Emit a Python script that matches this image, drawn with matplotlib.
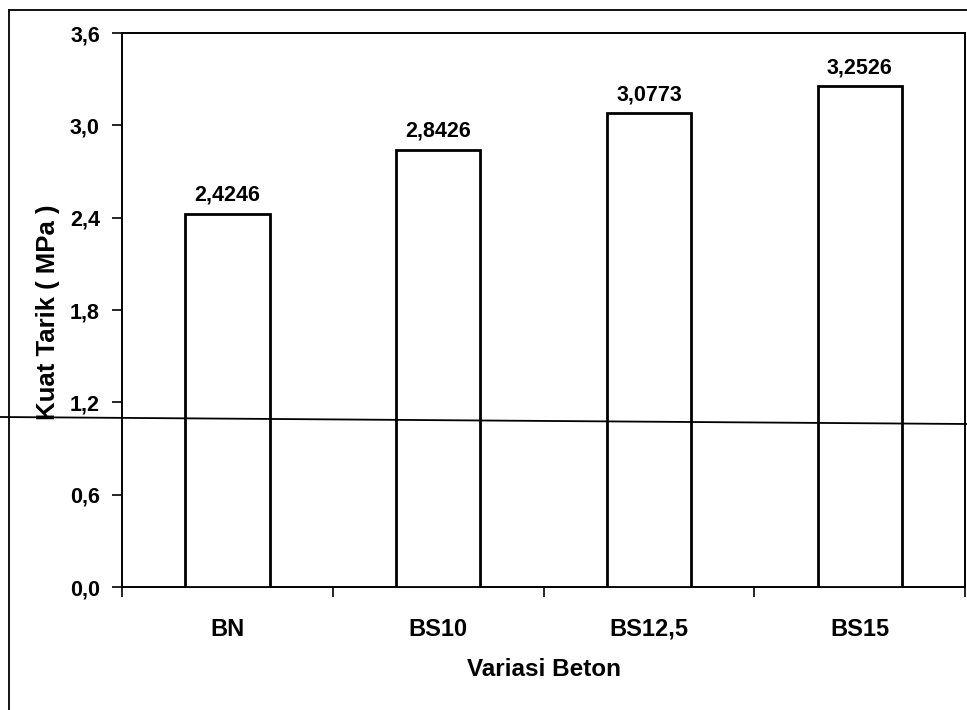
import numpy as np
import matplotlib
matplotlib.use("Agg")
import matplotlib.pyplot as plt
from matplotlib.lines import Line2D
from matplotlib.ticker import FixedLocator, FuncFormatter

# Tensile strength per concrete variant
variasi = ['BN', 'BS10', 'BS12,5', 'BS15']
kuat_tarik = [2.4246, 2.8426, 3.0773, 3.2526]
y_ticks = [0.0, 0.6, 1.2, 1.8, 2.4, 3.0, 3.6]

plt.rcParams['font.family'] = ['Liberation Sans', 'DejaVu Sans']

fig = plt.figure(figsize=(9.67, 7.10), dpi=100)
ax = fig.add_axes([0.1262, 0.1732, 0.8718, 0.7803])

x = np.arange(len(variasi))
bars = ax.bar(x, kuat_tarik, width=0.4, color='white', edgecolor='black',
              linewidth=2.0, zorder=3)

for xi, val in zip(x, kuat_tarik):
    ax.annotate(f"{val:.4f}".replace('.', ','), (xi, val),
                xytext=(0, 6), textcoords='offset points',
                ha='center', va='bottom', fontsize=15.5, fontweight='bold')

ax.set_xlim(-0.5, len(variasi) - 0.5)
ax.set_ylim(0, 3.6)

# y axis: comma decimals, outward ticks
ax.yaxis.set_major_locator(FixedLocator(y_ticks))
ax.yaxis.set_major_formatter(FuncFormatter(lambda v, p: f"{v:.1f}".replace('.', ',')))
ax.tick_params(axis='y', direction='out', length=7, width=1.2, pad=9,
               labelsize=15.5)
for lbl in ax.get_yticklabels():
    lbl.set_fontweight('bold')

# x axis: labels at bar centres (aligned on baseline), tick marks at category boundaries
ax.set_xticks(x)
ax.set_xticklabels(variasi, fontsize=17, fontweight='bold', va='baseline')
ax.tick_params(axis='x', which='major', length=0, pad=35)
ax.set_xticks(np.arange(-0.5, len(variasi)), minor=True)
ax.tick_params(axis='x', which='minor', direction='out', length=7, width=1.2)

for sp in ax.spines.values():
    sp.set_linewidth(1.4)

ax.text(0.5, -0.148, 'Variasi Beton', transform=ax.transAxes,
        ha='center', va='center', fontsize=17.5, fontweight='bold')
ax.text(-0.088, 0.496, 'Kuat Tarik ( MPa )', transform=ax.transAxes,
        ha='center', va='center', rotation=90, fontsize=18.5, fontweight='bold')

# outer frame around the chart
W, H = 967, 710
fig.add_artist(Line2D([9 / W, 9 / W], [0, 1 - 10 / H], transform=fig.transFigure,
                      color='black', linewidth=1.3))
fig.add_artist(Line2D([9 / W, 1], [1 - 10 / H, 1 - 10 / H], transform=fig.transFigure,
                      color='black', linewidth=1.3))
# stray line running across the page
fig.add_artist(Line2D([0, 1], [1 - 417 / H, 1 - 424 / H], transform=fig.transFigure,
                      color='black', linewidth=1.3, zorder=10))

fig.savefig('out.png', dpi=100)
